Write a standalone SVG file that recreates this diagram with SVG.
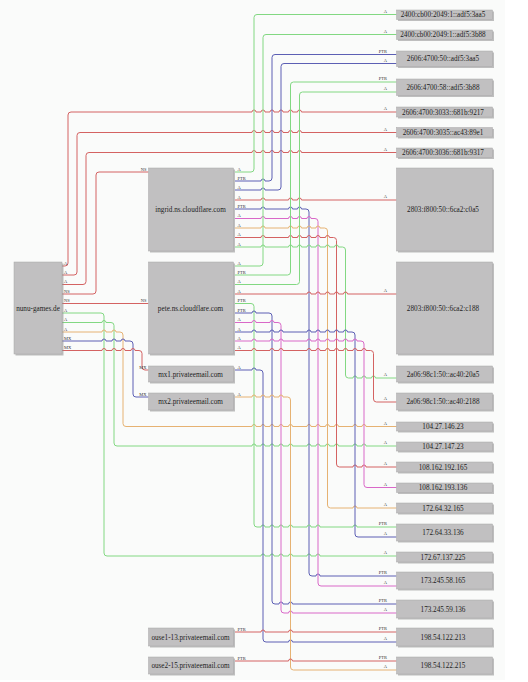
<svg xmlns="http://www.w3.org/2000/svg" width="528" height="682" viewBox="0 0 528 682">
<style>
.bg{fill:#fafbfa}
.sh{fill:#8c8c8c;opacity:.55}
.nd{fill:#c1c0c1;stroke:#a8a8a8;stroke-width:.5}
.t{font-family:"Liberation Serif",serif;font-size:7.2px;fill:#222;text-anchor:middle}
.e{fill:none;stroke-width:1}
.r{stroke:#d46262}
.g{stroke:#82d882}
.b{stroke:#5c5fb4}
.m{stroke:#d968c8}
.o{stroke:#e6b272}
.l{font-family:"Liberation Serif",serif;font-size:4.5px;fill:#333}
.le{text-anchor:end}
</style>
<rect class="bg" x="0" y="0" width="505" height="680"/>
<g id="edges">
<path class="e r" d="M62 266 H65 Q68 266 68 263 V115 Q68 112 71 112 H252 a2 2 0 0 1 4 0 H261 a2 2 0 0 1 4 0 H270 a2 2 0 0 1 4 0 H279 a2 2 0 0 1 4 0 H288.5 a2 2 0 0 1 4 0 H297.5 a2 2 0 0 1 4 0 H396.5"/>
<path class="e r" d="M62 275 H74 Q77 275 77 272 V135.5 Q77 132.5 80 132.5 H252 a2 2 0 0 1 4 0 H261 a2 2 0 0 1 4 0 H270 a2 2 0 0 1 4 0 H279 a2 2 0 0 1 4 0 H288.5 a2 2 0 0 1 4 0 H297.5 a2 2 0 0 1 4 0 H396.5"/>
<path class="e r" d="M62 284.5 H83 Q86 284.5 86 281.5 V155.5 Q86 152.5 89 152.5 H252 a2 2 0 0 1 4 0 H261 a2 2 0 0 1 4 0 H270 a2 2 0 0 1 4 0 H279 a2 2 0 0 1 4 0 H288.5 a2 2 0 0 1 4 0 H297.5 a2 2 0 0 1 4 0 H396.5"/>
<path class="e r" d="M62 294 H93 Q96 294 96 291 V175 Q96 172 99 172 H148.5"/>
<path class="e r" d="M62 303.5 H148.5"/>
<path class="e g" d="M62 313 H101 Q104 313 104 316 V553 Q104 556 107 556 H261 a2 2 0 0 1 4 0 H270 a2 2 0 0 1 4 0 H279 a2 2 0 0 1 4 0 H288.5 a2 2 0 0 1 4 0 H307 a2 2 0 0 1 4 0 H316 a2 2 0 0 1 4 0 H396.5"/>
<path class="e g" d="M62 322.5 H102 a2 2 0 0 1 4 0 H111 Q114 322.5 114 325.5 V443 Q114 446 117 446 H252 a2 2 0 0 1 4 0 H261 a2 2 0 0 1 4 0 H270 a2 2 0 0 1 4 0 H279 a2 2 0 0 1 4 0 H288.5 a2 2 0 0 1 4 0 H307 a2 2 0 0 1 4 0 H316 a2 2 0 0 1 4 0 H325.5 a2 2 0 0 1 4 0 H334.5 a2 2 0 0 1 4 0 H353 a2 2 0 0 1 4 0 H362 a2 2 0 0 1 4 0 H396.5"/>
<path class="e o" d="M62 332 H102 a2 2 0 0 1 4 0 H112 a2 2 0 0 1 4 0 H120 Q123 332 123 335 V423.5 Q123 426.5 126 426.5 H252 a2 2 0 0 1 4 0 H261 a2 2 0 0 1 4 0 H270 a2 2 0 0 1 4 0 H279 a2 2 0 0 1 4 0 H288.5 a2 2 0 0 1 4 0 H307 a2 2 0 0 1 4 0 H316 a2 2 0 0 1 4 0 H325.5 a2 2 0 0 1 4 0 H334.5 a2 2 0 0 1 4 0 H353 a2 2 0 0 1 4 0 H362 a2 2 0 0 1 4 0 H396.5"/>
<path class="e b" d="M62 341 H102 a2 2 0 0 1 4 0 H112 a2 2 0 0 1 4 0 H121 a2 2 0 0 1 4 0 H130 Q133 341 133 344 V394 Q133 397 136 397 H148.5"/>
<path class="e r" d="M62 350.5 H102 a2 2 0 0 1 4 0 H112 a2 2 0 0 1 4 0 H121 a2 2 0 0 1 4 0 H131 a2 2 0 0 1 4 0 H139 Q142 350.5 142 353.5 V367 Q142 370 145 370 H148.5"/>
<path class="e g" d="M235 172 H251 Q254 172 254 169 V17.5 Q254 14.5 257 14.5 H396.5"/>
<path class="e b" d="M235 181 H261 a2 2 0 0 1 4 0 H269 Q272 181 272 178 V57.5 Q272 54.5 275 54.5 H396.5"/>
<path class="e b" d="M235 190 H261 a2 2 0 0 1 4 0 H278 Q281 190 281 187 V66.5 Q281 63.5 284 63.5 H396.5"/>
<path class="e r" d="M235 200 H261 a2 2 0 0 1 4 0 H288.5 a2 2 0 0 1 4 0 H297.5 a2 2 0 0 1 4 0 H396.5"/>
<path class="e b" d="M235 209 H261 a2 2 0 0 1 4 0 H288.5 a2 2 0 0 1 4 0 H297.5 a2 2 0 0 1 4 0 H306 Q309 209 309 212 V573 Q309 576 312 576 H316 a2 2 0 0 1 4 0 H396.5"/>
<path class="e m" d="M235 218.5 H261 a2 2 0 0 1 4 0 H288.5 a2 2 0 0 1 4 0 H297.5 a2 2 0 0 1 4 0 H307 a2 2 0 0 1 4 0 H315 Q318 218.5 318 221.5 V583 Q318 586 321 586 H396.5"/>
<path class="e o" d="M235 228 H261 a2 2 0 0 1 4 0 H288.5 a2 2 0 0 1 4 0 H297.5 a2 2 0 0 1 4 0 H307 a2 2 0 0 1 4 0 H316 a2 2 0 0 1 4 0 H324.5 Q327.5 228 327.5 231 V505 Q327.5 508 330.5 508 H353 a2 2 0 0 1 4 0 H396.5"/>
<path class="e r" d="M235 237.5 H261 a2 2 0 0 1 4 0 H288.5 a2 2 0 0 1 4 0 H297.5 a2 2 0 0 1 4 0 H307 a2 2 0 0 1 4 0 H316 a2 2 0 0 1 4 0 H325.5 a2 2 0 0 1 4 0 H333.5 Q336.5 237.5 336.5 240.5 V464 Q336.5 467 339.5 467 H353 a2 2 0 0 1 4 0 H362 a2 2 0 0 1 4 0 H396.5"/>
<path class="e g" d="M235 247 H261 a2 2 0 0 1 4 0 H288.5 a2 2 0 0 1 4 0 H297.5 a2 2 0 0 1 4 0 H307 a2 2 0 0 1 4 0 H316 a2 2 0 0 1 4 0 H325.5 a2 2 0 0 1 4 0 H334.5 a2 2 0 0 1 4 0 H342.5 Q345.5 247 345.5 250 V375 Q345.5 378 348.5 378 H353 a2 2 0 0 1 4 0 H362 a2 2 0 0 1 4 0 H371.5 a2 2 0 0 1 4 0 H396.5"/>
<path class="e g" d="M235 266 H260 Q263 266 263 263 V37.5 Q263 34.5 266 34.5 H396.5"/>
<path class="e g" d="M235 275 H287.5 Q290.5 275 290.5 272 V85 Q290.5 82 293.5 82 H396.5"/>
<path class="e g" d="M235 284.5 H296.5 Q299.5 284.5 299.5 281.5 V95 Q299.5 92 302.5 92 H396.5"/>
<path class="e r" d="M235 294 H307 a2 2 0 0 1 4 0 H316 a2 2 0 0 1 4 0 H325.5 a2 2 0 0 1 4 0 H334.5 a2 2 0 0 1 4 0 H343.5 a2 2 0 0 1 4 0 H396.5"/>
<path class="e g" d="M235 303.5 H251 Q254 303.5 254 306.5 V524 Q254 527 257 527 H261 a2 2 0 0 1 4 0 H270 a2 2 0 0 1 4 0 H279 a2 2 0 0 1 4 0 H288.5 a2 2 0 0 1 4 0 H307 a2 2 0 0 1 4 0 H316 a2 2 0 0 1 4 0 H353 a2 2 0 0 1 4 0 H396.5"/>
<path class="e b" d="M235 313 H252 a2 2 0 0 1 4 0 H269 Q272 313 272 316 V601 Q272 604 275 604 H279 a2 2 0 0 1 4 0 H288.5 a2 2 0 0 1 4 0 H396.5"/>
<path class="e m" d="M235 322.5 H252 a2 2 0 0 1 4 0 H270 a2 2 0 0 1 4 0 H278 Q281 322.5 281 325.5 V610 Q281 613 284 613 H288.5 a2 2 0 0 1 4 0 H396.5"/>
<path class="e b" d="M235 332 H252 a2 2 0 0 1 4 0 H270 a2 2 0 0 1 4 0 H279 a2 2 0 0 1 4 0 H307 a2 2 0 0 1 4 0 H316 a2 2 0 0 1 4 0 H325.5 a2 2 0 0 1 4 0 H334.5 a2 2 0 0 1 4 0 H343.5 a2 2 0 0 1 4 0 H352 Q355 332 355 335 V534 Q355 537 358 537 H396.5"/>
<path class="e m" d="M235 341 H252 a2 2 0 0 1 4 0 H270 a2 2 0 0 1 4 0 H279 a2 2 0 0 1 4 0 H307 a2 2 0 0 1 4 0 H316 a2 2 0 0 1 4 0 H325.5 a2 2 0 0 1 4 0 H334.5 a2 2 0 0 1 4 0 H343.5 a2 2 0 0 1 4 0 H353 a2 2 0 0 1 4 0 H361 Q364 341 364 344 V484.5 Q364 487.5 367 487.5 H396.5"/>
<path class="e r" d="M235 350.5 H252 a2 2 0 0 1 4 0 H270 a2 2 0 0 1 4 0 H279 a2 2 0 0 1 4 0 H307 a2 2 0 0 1 4 0 H316 a2 2 0 0 1 4 0 H325.5 a2 2 0 0 1 4 0 H334.5 a2 2 0 0 1 4 0 H343.5 a2 2 0 0 1 4 0 H353 a2 2 0 0 1 4 0 H362 a2 2 0 0 1 4 0 H370.5 Q373.5 350.5 373.5 353.5 V399 Q373.5 402 376.5 402 H396.5"/>
<path class="e b" d="M235 370 H252 a2 2 0 0 1 4 0 H260 Q263 370 263 373 V639 Q263 642 266 642 H288.5 a2 2 0 0 1 4 0 H396.5"/>
<path class="e o" d="M235 397 H252 a2 2 0 0 1 4 0 H261 a2 2 0 0 1 4 0 H270 a2 2 0 0 1 4 0 H279 a2 2 0 0 1 4 0 H287.5 Q290.5 397 290.5 400 V667 Q290.5 670 293.5 670 H396.5"/>
<path class="e r" d="M235 632 H261 a2 2 0 0 1 4 0 H288.5 a2 2 0 0 1 4 0 H396.5"/>
<path class="e r" d="M235 661 H288.5 a2 2 0 0 1 4 0 H396.5"/>
<g id="edge-labels">
<text class="l" x="64" y="264.5">A</text>
<text class="l" x="64" y="273.5">A</text>
<text class="l" x="64" y="283">A</text>
<text class="l" x="64" y="292.5">NS</text>
<text class="l" x="64" y="302">NS</text>
<text class="l" x="64" y="311.5">A</text>
<text class="l" x="64" y="321">A</text>
<text class="l" x="64" y="330.5">A</text>
<text class="l" x="64" y="339.5">MX</text>
<text class="l" x="64" y="349">MX</text>
<text class="l le" x="146.5" y="170.5">NS</text>
<text class="l le" x="146.5" y="302">NS</text>
<text class="l le" x="146.5" y="368.5">MX</text>
<text class="l le" x="146.5" y="395.5">MX</text>
<text class="l" x="237.5" y="170.5">A</text>
<text class="l" x="237.5" y="179.5">PTR</text>
<text class="l" x="237.5" y="188.5">A</text>
<text class="l" x="237.5" y="198.5">A</text>
<text class="l" x="237.5" y="207.5">PTR</text>
<text class="l" x="237.5" y="217">A</text>
<text class="l" x="237.5" y="226.5">A</text>
<text class="l" x="237.5" y="236">A</text>
<text class="l" x="237.5" y="245.5">A</text>
<text class="l" x="237.5" y="264.5">A</text>
<text class="l" x="237.5" y="273.5">PTR</text>
<text class="l" x="237.5" y="283">A</text>
<text class="l" x="237.5" y="292.5">A</text>
<text class="l" x="237.5" y="302">PTR</text>
<text class="l" x="237.5" y="311.5">PTR</text>
<text class="l" x="237.5" y="321">A</text>
<text class="l" x="237.5" y="330.5">A</text>
<text class="l" x="237.5" y="339.5">A</text>
<text class="l" x="237.5" y="349">A</text>
<text class="l" x="237.5" y="368.5">A</text>
<text class="l" x="237.5" y="395.5">A</text>
<text class="l" x="237.5" y="630.5">PTR</text>
<text class="l" x="237.5" y="659.5">PTR</text>
<text class="l le" x="387" y="12.5">A</text>
<text class="l le" x="387" y="32.5">A</text>
<text class="l le" x="387" y="52.5">PTR</text>
<text class="l le" x="387" y="61.5">A</text>
<text class="l le" x="387" y="80">PTR</text>
<text class="l le" x="387" y="90">A</text>
<text class="l le" x="387" y="110">A</text>
<text class="l le" x="387" y="130.5">A</text>
<text class="l le" x="387" y="150.5">A</text>
<text class="l le" x="387" y="198">A</text>
<text class="l le" x="387" y="292">A</text>
<text class="l le" x="387" y="376">A</text>
<text class="l le" x="387" y="400">A</text>
<text class="l le" x="387" y="424.5">A</text>
<text class="l le" x="387" y="444">A</text>
<text class="l le" x="387" y="465">A</text>
<text class="l le" x="387" y="485.5">A</text>
<text class="l le" x="387" y="506">A</text>
<text class="l le" x="387" y="525">PTR</text>
<text class="l le" x="387" y="535">A</text>
<text class="l le" x="387" y="554">A</text>
<text class="l le" x="387" y="574">PTR</text>
<text class="l le" x="387" y="584">A</text>
<text class="l le" x="387" y="602">PTR</text>
<text class="l le" x="387" y="611">A</text>
<text class="l le" x="387" y="630">PTR</text>
<text class="l le" x="387" y="640">A</text>
<text class="l le" x="387" y="659">PTR</text>
<text class="l le" x="387" y="668">A</text>
</g>
</g>
<g id="nunu-games.de"><rect class="sh" x="15.5" y="263.5" width="48" height="92"/><rect class="nd" x="14" y="262" width="48" height="92"/><text class="t" x="38" y="310.5">nunu-games.de</text></g>
<g id="ingrid.ns.cloudflare.com"><rect class="sh" x="150" y="169.5" width="85" height="83"/><rect class="nd" x="148.5" y="168" width="85" height="83"/><text class="t" x="190.5" y="212">ingrid.ns.cloudflare.com</text></g>
<g id="pete.ns.cloudflare.com"><rect class="sh" x="150" y="263.5" width="85" height="92"/><rect class="nd" x="148.5" y="262" width="85" height="92"/><text class="t" x="190.5" y="310.5">pete.ns.cloudflare.com</text></g>
<g id="mx1.privateemail.com"><rect class="sh" x="150" y="367.5" width="85" height="16"/><rect class="nd" x="148.5" y="366" width="85" height="16"/><text class="t" x="190.5" y="376.5">mx1.privateemail.com</text></g>
<g id="mx2.privateemail.com"><rect class="sh" x="150" y="394.5" width="85" height="17"/><rect class="nd" x="148.5" y="393" width="85" height="17"/><text class="t" x="190.5" y="404">mx2.privateemail.com</text></g>
<g id="ouse1-13.privateemail.com"><rect class="sh" x="150" y="629.5" width="85" height="18"/><rect class="nd" x="148.5" y="628" width="85" height="18"/><text class="t" x="190.5" y="639.5">ouse1-13.privateemail.com</text></g>
<g id="ouse2-15.privateemail.com"><rect class="sh" x="150" y="658.5" width="85" height="17"/><rect class="nd" x="148.5" y="657" width="85" height="17"/><text class="t" x="190.5" y="668">ouse2-15.privateemail.com</text></g>
<g id="n-2400-3aa5"><rect class="sh" x="398" y="11.5" width="96" height="9.5"/><rect class="nd" x="396.5" y="10" width="96" height="9.5"/><text class="t" x="443" y="17.2">2400:cb00:2049:1::adf5:3aa5</text></g>
<g id="n-2400-3b88"><rect class="sh" x="398" y="31.5" width="96" height="9.5"/><rect class="nd" x="396.5" y="30" width="96" height="9.5"/><text class="t" x="443" y="37.2">2400:cb00:2049:1::adf5:3b88</text></g>
<g id="n-2606-50"><rect class="sh" x="398" y="52.5" width="96" height="15.5"/><rect class="nd" x="396.5" y="51" width="96" height="15.5"/><text class="t" x="443" y="61.2">2606:4700:50::adf5:3aa5</text></g>
<g id="n-2606-58"><rect class="sh" x="398" y="80.5" width="96" height="16.5"/><rect class="nd" x="396.5" y="79" width="96" height="16.5"/><text class="t" x="443" y="89.7">2606:4700:58::adf5:3b88</text></g>
<g id="n-2606-3033"><rect class="sh" x="398" y="108.5" width="96" height="10"/><rect class="nd" x="396.5" y="107" width="96" height="10"/><text class="t" x="443" y="114.5">2606:4700:3033::681b:9217</text></g>
<g id="n-2606-3035"><rect class="sh" x="398" y="129" width="96" height="9.5"/><rect class="nd" x="396.5" y="127.5" width="96" height="9.5"/><text class="t" x="443" y="134.7">2606:4700:3035::ac43:89e1</text></g>
<g id="n-2606-3036"><rect class="sh" x="398" y="149.5" width="96" height="9.5"/><rect class="nd" x="396.5" y="148" width="96" height="9.5"/><text class="t" x="443" y="155.2">2606:4700:3036::681b:9317</text></g>
<g id="n-2803-c0a5"><rect class="sh" x="398" y="169.5" width="96" height="83"/><rect class="nd" x="396.5" y="168" width="96" height="83"/><text class="t" x="443" y="212">2803:f800:50::6ca2:c0a5</text></g>
<g id="n-2803-c188"><rect class="sh" x="398" y="263.5" width="96" height="92"/><rect class="nd" x="396.5" y="262" width="96" height="92"/><text class="t" x="443" y="310.5">2803:f800:50::6ca2:c188</text></g>
<g id="n-2a06-20a5"><rect class="sh" x="398" y="367.5" width="96" height="16"/><rect class="nd" x="396.5" y="366" width="96" height="16"/><text class="t" x="443" y="376.5">2a06:98c1:50::ac40:20a5</text></g>
<g id="n-2a06-2188"><rect class="sh" x="398" y="394.5" width="96" height="17"/><rect class="nd" x="396.5" y="393" width="96" height="17"/><text class="t" x="443" y="404">2a06:98c1:50::ac40:2188</text></g>
<g id="n-104.27.146.23"><rect class="sh" x="398" y="423.5" width="96" height="9"/><rect class="nd" x="396.5" y="422" width="96" height="9"/><text class="t" x="443" y="429">104.27.146.23</text></g>
<g id="n-104.27.147.23"><rect class="sh" x="398" y="443.5" width="96" height="9"/><rect class="nd" x="396.5" y="442" width="96" height="9"/><text class="t" x="443" y="449">104.27.147.23</text></g>
<g id="n-108.162.192.165"><rect class="sh" x="398" y="463.5" width="96" height="10"/><rect class="nd" x="396.5" y="462" width="96" height="10"/><text class="t" x="443" y="469.5">108.162.192.165</text></g>
<g id="n-108.162.193.136"><rect class="sh" x="398" y="484.5" width="96" height="9.5"/><rect class="nd" x="396.5" y="483" width="96" height="9.5"/><text class="t" x="443" y="490.2">108.162.193.136</text></g>
<g id="n-172.64.32.165"><rect class="sh" x="398" y="504.5" width="96" height="10"/><rect class="nd" x="396.5" y="503" width="96" height="10"/><text class="t" x="443" y="510.5">172.64.32.165</text></g>
<g id="n-172.64.33.136"><rect class="sh" x="398" y="525.5" width="96" height="17"/><rect class="nd" x="396.5" y="524" width="96" height="17"/><text class="t" x="443" y="535">172.64.33.136</text></g>
<g id="n-172.67.137.225"><rect class="sh" x="398" y="553.5" width="96" height="10"/><rect class="nd" x="396.5" y="552" width="96" height="10"/><text class="t" x="443" y="559.5">172.67.137.225</text></g>
<g id="n-173.245.58.165"><rect class="sh" x="398" y="573.5" width="96" height="17"/><rect class="nd" x="396.5" y="572" width="96" height="17"/><text class="t" x="443" y="583">173.245.58.165</text></g>
<g id="n-173.245.59.136"><rect class="sh" x="398" y="601.5" width="96" height="18"/><rect class="nd" x="396.5" y="600" width="96" height="18"/><text class="t" x="443" y="611.5">173.245.59.136</text></g>
<g id="n-198.54.122.213"><rect class="sh" x="398" y="629.5" width="96" height="18"/><rect class="nd" x="396.5" y="628" width="96" height="18"/><text class="t" x="443" y="639.5">198.54.122.213</text></g>
<g id="n-198.54.122.215"><rect class="sh" x="398" y="658.5" width="96" height="17"/><rect class="nd" x="396.5" y="657" width="96" height="17"/><text class="t" x="443" y="668">198.54.122.215</text></g>
</svg>
